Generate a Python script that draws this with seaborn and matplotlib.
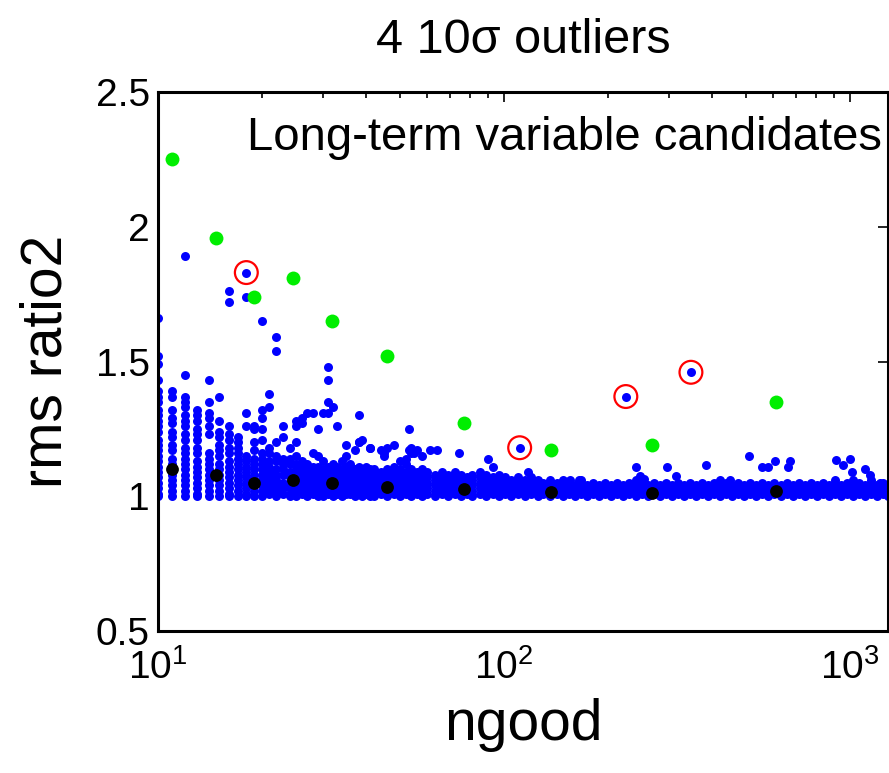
import matplotlib
matplotlib.use("Agg")
import matplotlib.pyplot as plt
import pandas as pd
import seaborn as sns
from matplotlib.ticker import FixedLocator, FuncFormatter, NullLocator

# ---------------- data ----------------
# low-ngood integer columns: each entry lists the rms ratio2 values of that column
col_ngood = [10, 11, 12, 13, 14, 15, 16, 17, 18, 19, 20, 21, 22, 23, 24, 25,
             26, 27, 28, 29, 30, 31, 32, 33, 34, 35, 36, 37, 38, 39, 40, 41]
col_ratio = [
    [1.66, 1.52, 1.49, 1.43, 1.39, 1.37, 1.35, 1.32, 1.30, 1.28, 1.26, 1.24, 1.21, 1.19,
     1.17, 1.15, 1.13, 1.11, 1.09, 1.07, 1.05, 1.03, 1.01, 1.00],
    [1.39, 1.37, 1.32, 1.29, 1.27, 1.24, 1.22, 1.19, 1.17, 1.14, 1.12, 1.10, 1.08, 1.06,
     1.04, 1.02, 1.00],
    [1.89, 1.45, 1.37, 1.35, 1.33, 1.30, 1.28, 1.26, 1.23, 1.21, 1.18, 1.16, 1.14, 1.12,
     1.10, 1.08, 1.06, 1.04, 1.02, 1.00],
    [1.32, 1.30, 1.28, 1.25, 1.23, 1.21, 1.18, 1.16, 1.13, 1.11, 1.09, 1.07, 1.05, 1.03,
     1.01, 1.00],
    [1.43, 1.35, 1.31, 1.29, 1.26, 1.23, 1.16, 1.14, 1.12, 1.10, 1.08, 1.06, 1.04, 1.02, 1.00],
    [1.37, 1.28, 1.24, 1.22, 1.19, 1.17, 1.15, 1.12, 1.10, 1.08, 1.06, 1.04, 1.02, 1.00],
    [1.76, 1.72, 1.26, 1.23, 1.21, 1.18, 1.16, 1.13, 1.11, 1.09, 1.07, 1.05, 1.03, 1.01, 1.00],
    [1.22, 1.20, 1.18, 1.16, 1.14, 1.12, 1.10, 1.08, 1.06, 1.04, 1.02, 1.00],
    [1.74, 1.31, 1.26, 1.15, 1.13, 1.11, 1.09, 1.07, 1.05, 1.03, 1.01, 1.00],
    [1.26, 1.25, 1.20, 1.17, 1.14, 1.12, 1.10, 1.08, 1.06, 1.04, 1.02, 1.00],
    [1.65, 1.32, 1.29, 1.25, 1.21, 1.16, 1.14, 1.12, 1.10, 1.08, 1.06, 1.04, 1.02, 1.00],
    [1.38, 1.33, 1.18, 1.16, 1.13, 1.11, 1.09, 1.07, 1.05, 1.03, 1.01],
    [1.59, 1.54, 1.20, 1.15, 1.13, 1.10, 1.08, 1.06, 1.04, 1.02, 1.00],
    [1.26, 1.22, 1.14, 1.12, 1.10, 1.08, 1.05, 1.03, 1.01],
    [1.18, 1.14, 1.12, 1.09, 1.07, 1.05, 1.03, 1.01, 1.00],
    [1.28, 1.26, 1.20, 1.15, 1.12, 1.10, 1.08, 1.06, 1.04, 1.02, 1.00],
    [1.29, 1.27, 1.13, 1.11, 1.09, 1.07, 1.05, 1.03, 1.01],
    [1.31, 1.12, 1.10, 1.08, 1.06, 1.04, 1.02, 1.00],
    [1.31, 1.16, 1.11, 1.09, 1.07, 1.05, 1.03, 1.01],
    [1.25, 1.15, 1.11, 1.09, 1.07, 1.05, 1.03, 1.01, 1.00],
    [1.31, 1.13, 1.10, 1.08, 1.06, 1.04, 1.02, 1.00],
    [1.48, 1.43, 1.35, 1.31, 1.11, 1.09, 1.07, 1.05, 1.03, 1.01],
    [1.33, 1.12, 1.10, 1.08, 1.06, 1.04, 1.02, 1.00],
    [1.26, 1.11, 1.09, 1.07, 1.05, 1.03, 1.01],
    [1.13, 1.10, 1.08, 1.06, 1.04, 1.02, 1.00],
    [1.19, 1.15, 1.11, 1.09, 1.07, 1.05, 1.03, 1.01],
    [1.12, 1.09, 1.07, 1.05, 1.03, 1.01],
    [1.17, 1.10, 1.08, 1.06, 1.04, 1.02, 1.00],
    [1.30, 1.20, 1.11, 1.09, 1.07, 1.05, 1.03, 1.01],
    [1.21, 1.10, 1.08, 1.06, 1.04, 1.02, 1.00],
    [1.11, 1.09, 1.07, 1.05, 1.03, 1.01],
    [1.18, 1.10, 1.08, 1.06, 1.04, 1.02, 1.00],
]

# dense band at higher ngood
band_ngood = [42, 44, 46, 48, 50, 52, 54, 56, 58, 60,
              63, 66, 69, 72, 75, 78, 81, 85, 89, 93,
              97, 101, 105, 110, 115, 120, 125, 130, 136, 142,
              148, 154, 160, 167, 174, 181, 188, 196, 204, 212,
              221, 230, 240, 250, 260, 271, 282, 294, 306, 318,
              331, 345, 359, 374, 389, 405, 422, 439, 457, 476,
              495, 515, 536, 558, 581, 605, 630, 656, 683, 711,
              740, 770, 802, 835, 869, 905, 942, 980, 1020, 1062,
              1105, 1150, 1197, 1246, 1285]
band_ratio = [
    [1.00, 1.02, 1.04, 1.06, 1.08, 1.10], [1.01, 1.03, 1.05, 1.07, 1.09],
    [1.00, 1.02, 1.04, 1.06, 1.08, 1.10], [1.01, 1.03, 1.05, 1.07, 1.09, 1.11],
    [1.00, 1.02, 1.04, 1.06, 1.08, 1.10], [1.01, 1.03, 1.05, 1.07, 1.09],
    [1.00, 1.02, 1.04, 1.06, 1.08, 1.10], [1.01, 1.03, 1.05, 1.07, 1.09],
    [1.00, 1.02, 1.04, 1.06, 1.08, 1.10], [1.01, 1.03, 1.05, 1.07, 1.09],
    [1.00, 1.02, 1.04, 1.06, 1.08], [1.01, 1.03, 1.05, 1.07, 1.09],
    [1.00, 1.02, 1.04, 1.06, 1.08], [1.01, 1.03, 1.05, 1.07, 1.09],
    [1.00, 1.02, 1.04, 1.06, 1.08], [1.01, 1.03, 1.05, 1.07],
    [1.00, 1.02, 1.04, 1.06, 1.08], [1.01, 1.03, 1.05, 1.07, 1.09],
    [1.00, 1.02, 1.04, 1.06, 1.08], [1.01, 1.03, 1.05, 1.07],
    [1.00, 1.02, 1.04, 1.06, 1.08], [1.01, 1.03, 1.05, 1.07],
    [1.00, 1.02, 1.04, 1.06], [1.01, 1.03, 1.05, 1.07],
    [1.00, 1.02, 1.04, 1.06], [1.01, 1.03, 1.05, 1.07],
    [1.00, 1.02, 1.04, 1.06], [1.01, 1.03, 1.05],
    [1.00, 1.02, 1.04, 1.06], [1.01, 1.03, 1.05],
    [1.00, 1.02, 1.04, 1.06], [1.01, 1.03, 1.05],
    [1.00, 1.02, 1.04], [1.01, 1.03, 1.05, 1.06],
    [1.00, 1.02, 1.04], [1.01, 1.03, 1.05],
    [1.00, 1.02, 1.04], [1.01, 1.03, 1.05],
    [1.00, 1.02, 1.04], [1.01, 1.03, 1.05],
    [1.00, 1.02, 1.04], [1.01, 1.03, 1.05],
    [1.00, 1.02, 1.04, 1.06], [1.01, 1.03, 1.05],
    [1.00, 1.02, 1.04], [1.01, 1.03, 1.05],
    [1.00, 1.02, 1.04], [1.01, 1.03, 1.05],
    [1.00, 1.02, 1.04], [1.01, 1.03, 1.05],
    [1.00, 1.02, 1.04], [1.01, 1.03, 1.05],
    [1.00, 1.02, 1.04], [1.01, 1.03, 1.05],
    [1.00, 1.02, 1.04], [1.01, 1.03, 1.05],
    [1.00, 1.02, 1.04, 1.06], [1.01, 1.03, 1.05],
    [1.00, 1.02, 1.04], [1.01, 1.03, 1.05],
    [1.00, 1.02, 1.04], [1.01, 1.03, 1.05],
    [1.00, 1.02, 1.04], [1.01, 1.03, 1.05],
    [1.00, 1.02, 1.04], [1.01, 1.03, 1.05],
    [1.00, 1.02, 1.04], [1.01, 1.03, 1.05],
    [1.00, 1.02, 1.04], [1.01, 1.03, 1.05],
    [1.00, 1.02, 1.04], [1.01, 1.03, 1.05],
    [1.00, 1.02, 1.04], [1.01, 1.03, 1.05],
    [1.00, 1.02, 1.04], [1.01, 1.03, 1.05, 1.06],
    [1.00, 1.02, 1.04], [1.01, 1.03, 1.05],
    [1.00, 1.02, 1.04, 1.06], [1.01, 1.03, 1.05],
    [1.00, 1.02, 1.04], [1.01, 1.03, 1.05, 1.06],
    [1.00, 1.02, 1.04], [1.01, 1.03, 1.05],
    [1.00, 1.02, 1.04],
]

# scattered blue points above the band
out_ngood = [38, 41, 44, 45, 46, 45, 48, 50, 52, 52, 53, 53, 54, 54, 55, 56, 58, 61,
             64, 74, 90, 93, 117, 155, 165, 241, 247, 254, 295, 314, 384, 450, 512,
             556, 581, 607, 663, 671, 914, 957, 1000, 1011, 1104, 1142, 1221, 1262]
out_ratio = [1.20, 1.18, 1.17, 1.15, 1.18, 1.16, 1.19, 1.13, 1.12, 1.14, 1.25, 1.17, 1.18,
             1.16, 1.16, 1.17, 1.15, 1.17, 1.17, 1.16, 1.14, 1.11, 1.09, 1.06, 1.06, 1.11,
             1.075, 1.065, 1.11, 1.075, 1.115, 1.06, 1.15, 1.11, 1.11, 1.13, 1.11, 1.13,
             1.135, 1.115, 1.14, 1.09, 1.10, 1.08, 1.05, 1.035]

# long-term variable candidates (green) and binned reference level (black)
green_ngood = [11.0, 14.7, 19.0, 24.6, 31.8, 45.9, 76.4, 137, 268, 611]
green_ratio = [2.25, 1.96, 1.74, 1.81, 1.65, 1.52, 1.27, 1.17, 1.19, 1.35]
black_ngood = [11.0, 14.7, 19.0, 24.6, 31.8, 45.9, 76.4, 137, 268, 611]
black_ratio = [1.100, 1.079, 1.050, 1.060, 1.048, 1.035, 1.027, 1.017, 1.013, 1.019]

# the four 10-sigma outliers (circled in red)
circ_ngood = [18, 111, 225, 347]
circ_ratio = [1.83, 1.18, 1.37, 1.46]

title_text = "4 10\u03c3 outliers"
note_text = "Long-term variable candidates"
x_label = "ngood"
y_label = "rms ratio2"
y_ticks = [0.5, 1, 1.5, 2, 2.5]

# ---------------- build tables ----------------
bx, by = [], []
for n, vals in zip(col_ngood, col_ratio):
    for v in vals:
        bx.append(n)
        by.append(v)
for n, vals in zip(band_ngood, band_ratio):
    for v in vals:
        bx.append(n)
        by.append(v)
bx += out_ngood + circ_ngood
by += out_ratio + circ_ratio
blue_df = pd.DataFrame({"ngood": bx, "ratio": by})
green_df = pd.DataFrame({"ngood": green_ngood, "ratio": green_ratio})
black_df = pd.DataFrame({"ngood": black_ngood, "ratio": black_ratio})
circ_df = pd.DataFrame({"ngood": circ_ngood, "ratio": circ_ratio})

# ---------------- style ----------------
sns.set_theme(style="white")
plt.rcParams["font.family"] = ["Liberation Sans", "DejaVu Sans"]
plt.rcParams["mathtext.fontset"] = "custom"
plt.rcParams["mathtext.rm"] = "Liberation Sans"
plt.rcParams["mathtext.it"] = "Liberation Sans:italic"
for key in ["text.color", "axes.labelcolor", "xtick.color", "ytick.color", "axes.edgecolor"]:
    plt.rcParams[key] = "black"

fig = plt.figure(figsize=(8.89, 7.73), dpi=100)
ax = fig.add_axes([158 / 889, (773 - 631) / 773, 730 / 889, 539 / 773])
ax.set_xscale("log")

sns.scatterplot(data=blue_df, x="ngood", y="ratio", ax=ax, color="#0000ff",
                s=42, linewidth=0, zorder=2)
sns.scatterplot(data=green_df, x="ngood", y="ratio", ax=ax, color="#00ee00",
                s=100, linewidth=0, zorder=3)
sns.scatterplot(data=black_df, x="ngood", y="ratio", ax=ax, color="black",
                s=85, linewidth=0, zorder=4)
sns.scatterplot(data=circ_df, x="ngood", y="ratio", ax=ax, facecolor="none",
                edgecolor="#ff0000", s=270, linewidth=1.6, zorder=5)

ax.set_xlim(10, 1288)
ax.set_ylim(0.5, 2.5)
ax.yaxis.set_major_locator(FixedLocator(y_ticks))
ax.yaxis.set_major_formatter(FuncFormatter(lambda v, p: "%g" % v))
ax.yaxis.set_minor_locator(NullLocator())

ax.tick_params(which="both", direction="in", top=True, right=True, width=1.2,
               labelsize=28, colors="black")
ax.tick_params(which="major", length=7)
ax.tick_params(which="minor", length=4)
ax.tick_params(axis="y", which="major", pad=6)
ax.tick_params(axis="x", which="major", pad=13)
for sp in ax.spines.values():
    sp.set_visible(True)
    sp.set_linewidth(2.2)
    sp.set_color("black")

ax.set_xlabel(x_label, fontsize=41, labelpad=8)
ax.set_ylabel(y_label, fontsize=41, labelpad=16)
ax.set_title(title_text, fontsize=35, pad=28)
ax.text(0.992, 0.892, note_text, transform=ax.transAxes, ha="right", va="baseline",
        fontsize=34, zorder=6)

fig.savefig("out.png", dpi=100)
